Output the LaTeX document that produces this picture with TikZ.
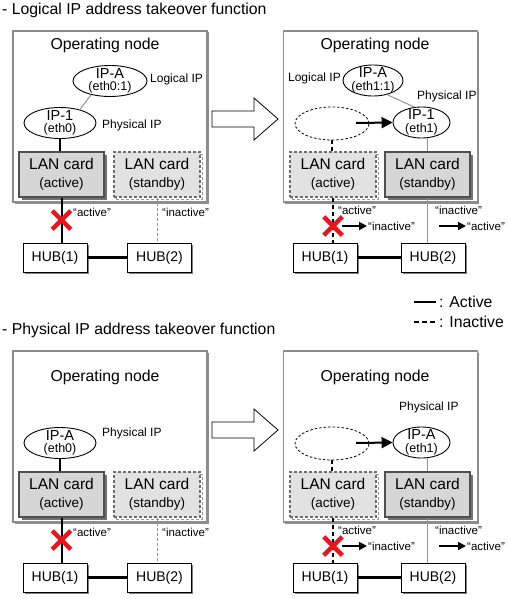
\documentclass[tikz,border=0pt]{standalone}
\usepackage{fontspec}
\setmainfont{Liberation Sans}
\usetikzlibrary{arrows.meta,positioning,shapes.geometric,shapes.misc,shadows}
\definecolor{cardfill}{HTML}{D6D6D6}
\definecolor{cardfade}{HTML}{E2E2E2}
\definecolor{cardedge}{HTML}{505050}
\definecolor{boxedge}{HTML}{8C8C8C}
\definecolor{failred}{HTML}{E8141E}
\newcommand\fntbig{\fontsize{15.8}{18}\selectfont}
\newcommand\fntcard{\fontsize{15.5}{18}\selectfont}
\newcommand\fntsub{\fontsize{13.5}{15}\selectfont}
\newcommand\fntip{\fontsize{14.5}{12.5}\selectfont}
\newcommand\fnteth{\fontsize{12.5}{12.5}\selectfont}
\newcommand\fnttag{\fontsize{12}{14}\selectfont}
\newcommand\fntquote{\fontsize{11.5}{13}\selectfont}
\newcommand\fnthub{\fontsize{14}{16}\selectfont}
\tikzset{
  title/.style={anchor=west,inner sep=0pt,font=\fntbig},
  opbox/.style={draw=boxedge,line width=1.3pt,fill=white,minimum width=194pt,minimum height=171pt,inner sep=0pt,
    drop shadow={shadow xshift=1.5pt,shadow yshift=-1.5pt,opacity=1,fill=black!45}},
  optxt/.style={inner sep=0pt,font=\fntbig},
  ipcirc/.style={ellipse,draw,line width=0.9pt,fill=white,minimum height=31pt,inner sep=0pt},
  iptxt/.style={align=center,font=\fntip,inner sep=0pt},
  ghost/.style={ellipse,draw,line width=0.8pt,dash pattern=on 2.5pt off 2pt,minimum width=74pt,minimum height=33pt,inner sep=0pt},
  tag/.style={inner sep=0pt,font=\fnttag},
  quote/.style={anchor=west,inner sep=1pt,font=\fntquote},
  lanon/.style={draw=cardedge,line width=1.2pt,fill=cardfill,minimum width=85pt,minimum height=45pt,inner sep=0pt,
    align=center,font=\fntcard,drop shadow={shadow xshift=2.5pt,shadow yshift=-2.5pt,opacity=1,fill=black!55}},
  lanoff/.style={draw=gray!85!black,line width=1.2pt,dash pattern=on 3pt off 2pt,fill=cardfade,minimum width=86pt,minimum height=45pt,
    inner sep=0pt,align=center,font=\fntcard,
    general shadow={shadow xshift=2pt,shadow yshift=-2pt,draw=gray!80,line width=1pt,dash pattern=on 3pt off 2pt}},
  hub/.style={draw,line width=0.9pt,fill=white,minimum width=64pt,minimum height=29pt,inner sep=0pt,font=\fnthub,
    drop shadow={shadow xshift=1.5pt,shadow yshift=-1.5pt,opacity=1,fill=black!50}},
  live/.style={line width=2pt},
  dead/.style={line width=2pt,dash pattern=on 4pt off 3pt},
  trunk/.style={line width=3pt},
  thinlink/.style={draw=gray!85,line width=1pt},
  thindash/.style={draw=gray!85,line width=1pt,dash pattern=on 3pt off 2pt},
  fail/.style={cross out,draw=failred,line width=4.5pt,minimum size=14pt,inner sep=0pt},
  moveto/.style={line width=2pt,-{Triangle[length=11pt,width=11pt]}},
  stepto/.style={line width=1.8pt,-{Triangle[length=8pt,width=8pt]}},
  bigarrow/.style={draw,line width=0.8pt,fill=white,line join=miter},
  keytxt/.style={anchor=west,inner sep=0pt,font=\fntbig},
}
\begin{document}
\begin{tikzpicture}[x=1pt,y=-1pt]
\useasboundingbox (0,0) rectangle (508,599);
\node[title] (t1) at (2,10) {- Logical IP address takeover function};
\node[title] (t2) at (2,330) {- Physical IP address takeover function};

% logical IP, before
\node[opbox] (a1box) at (110,116.5) {};
\node[optxt] (a1op) at (105,45) {Operating node};
\node[ipcirc,minimum width=74pt,label={[iptxt]center:{IP-A\\{\fnteth(eth0:1)}}}] (a1ipa) at (110,81) {};
\node[tag,anchor=west] (a1log) at (150,79) {Logical IP};
\node[ipcirc,minimum width=72pt,label={[iptxt]center:{IP-1\\{\fnteth(eth0)}}}] (a1ip1) at (60,123) {};
\node[tag,anchor=west] (a1phy) at (102,125) {Physical IP};
\draw[thinlink] (a1ipa.216) -- (a1ip1.34);
\node[lanon] (a1lan1) at (61.5,174.5) {LAN card\\{\fntsub(active)}};
\node[lanoff] (a1lan2) at (157,174.5) {LAN card\\{\fntsub(standby)}};
\draw[live] (a1ip1.south) -- (a1ip1.south |- a1lan1.north);
\node[hub] (a1hub1) at (55,257.5) {HUB(1)};
\node[hub] (a1hub2) at (159.5,257.5) {HUB(2)};
\draw[trunk] (a1hub1) -- (a1hub2);
\draw[live] (a1lan1.south) -- (a1lan1.south |- a1hub1.north);
\draw[thindash] (a1lan2.south) -- (a1lan2.south |- a1hub2.north);
\node[fail] (a1x) at (61.5,220) {};
\node[quote] (a1q1) at (72,212) {“active”};
\node[quote] (a1q2) at (161,212) {“inactive”};

\draw[bigarrow] (212,111) -- (254,111) -- (254,98) -- (278,119) -- (254,140) -- (254,127) -- (212,127) -- cycle;

% logical IP, after
\node[opbox] (a2box) at (380.5,116.5) {};
\node[optxt] (a2op) at (375,45) {Operating node};
\node[ipcirc,minimum width=60pt,label={[iptxt]center:{IP-A\\{\fnteth(eth1:1)}}}] (a2ipa) at (373,80.5) {};
\node[tag,anchor=east] (a2log) at (341,78) {Logical IP};
\node[ghost] (a2old) at (332,123.5) {};
\node[ipcirc,minimum width=57pt,label={[iptxt]center:{IP-1\\{\fnteth(eth1)}}}] (a2ip1) at (421.5,122.5) {};
\node[tag,anchor=west] (a2phy) at (417,96) {Physical IP};
\draw[thinlink] (a2ipa.-45) -- (a2ip1.115);
\coordinate (a2from) at (356,123);
\draw[moveto] (a2from) -- (a2ip1.west);
\node[lanoff] (a2lan1) at (333,174.5) {LAN card\\{\fntsub(active)}};
\node[lanon] (a2lan2) at (427.5,174.5) {LAN card\\{\fntsub(standby)}};
\draw[dead] (a2old.south) -- (a2old.south |- a2lan1.north);
\draw[thinlink] (a2lan2.north) -- (a2lan2.north |- a2ip1.south);
\node[hub] (a2hub1) at (325,257.5) {HUB(1)};
\node[hub] (a2hub2) at (433,257.5) {HUB(2)};
\draw[trunk] (a2hub1) -- (a2hub2);
\draw[dead] (a2lan1.south) -- (a2lan1.south |- a2hub1.north);
\draw[thinlink] (a2lan2.south) -- (a2lan2.south |- a2hub2.north);
\node[fail] (a2x) at (333,226) {};
\node[quote] (a2q1) at (337,210) {“active”};
\node[quote] (a2q2) at (367,226) {“inactive”};
\draw[stepto] (a2x.east) -- (a2q2.west);
\node[quote] (a2q3) at (434,210) {“inactive”};
\node[quote] (a2q4) at (466,226) {“active”};
\coordinate (a2from2) at (439,226);
\draw[stepto] (a2from2) -- (a2q4.west);

% key
\coordinate (k1a) at (414,302);
\node[keytxt] (k1) at (439,302) {: Active};
\draw[live,shorten >=3pt] (k1a) -- (k1.west);
\coordinate (k2a) at (414,322);
\node[keytxt] (k2) at (439,322) {: Inactive};
\draw[line width=2pt,dash pattern=on 5pt off 3pt,shorten >=3pt] (k2a) -- (k2.west);

% physical IP, before
\node[opbox] (b1box) at (110,436.5) {};
\node[optxt] (b1op) at (105,377) {Operating node};
\node[ipcirc,minimum width=72pt,label={[iptxt]center:{IP-A\\{\fnteth(eth0)}}}] (b1ipa) at (60,443) {};
\node[tag,anchor=west] (b1phy) at (102,433) {Physical IP};
\node[lanon] (b1lan1) at (61.5,494.5) {LAN card\\{\fntsub(active)}};
\node[lanoff] (b1lan2) at (157,494.5) {LAN card\\{\fntsub(standby)}};
\draw[live] (b1ipa.south) -- (b1ipa.south |- b1lan1.north);
\node[hub] (b1hub1) at (55,577.5) {HUB(1)};
\node[hub] (b1hub2) at (159.5,577.5) {HUB(2)};
\draw[trunk] (b1hub1) -- (b1hub2);
\draw[live] (b1lan1.south) -- (b1lan1.south |- b1hub1.north);
\draw[thindash] (b1lan2.south) -- (b1lan2.south |- b1hub2.north);
\node[fail] (b1x) at (61.5,540) {};
\node[quote] (b1q1) at (72,532) {“active”};
\node[quote] (b1q2) at (161,532) {“inactive”};

\draw[bigarrow] (212,422) -- (254,422) -- (254,409) -- (278,430) -- (254,451) -- (254,438) -- (212,438) -- cycle;

% physical IP, after
\node[opbox] (b2box) at (380.5,436.5) {};
\node[optxt] (b2op) at (375,377) {Operating node};
\node[tag,anchor=west] (b2phy) at (399,407) {Physical IP};
\node[ghost] (b2old) at (332,443.5) {};
\node[ipcirc,minimum width=57pt,label={[iptxt]center:{IP-A\\{\fnteth(eth1)}}}] (b2ipa) at (421.5,442.5) {};
\coordinate (b2from) at (356,443);
\draw[moveto] (b2from) -- (b2ipa.west);
\node[lanoff] (b2lan1) at (333,494.5) {LAN card\\{\fntsub(active)}};
\node[lanon] (b2lan2) at (427.5,494.5) {LAN card\\{\fntsub(standby)}};
\draw[dead] (b2old.south) -- (b2old.south |- b2lan1.north);
\draw[thinlink] (b2lan2.north) -- (b2lan2.north |- b2ipa.south);
\node[hub] (b2hub1) at (325,577.5) {HUB(1)};
\node[hub] (b2hub2) at (433,577.5) {HUB(2)};
\draw[trunk] (b2hub1) -- (b2hub2);
\draw[dead] (b2lan1.south) -- (b2lan1.south |- b2hub1.north);
\draw[thinlink] (b2lan2.south) -- (b2lan2.south |- b2hub2.north);
\node[fail] (b2x) at (333,546) {};
\node[quote] (b2q1) at (337,530) {“active”};
\node[quote] (b2q2) at (367,546) {“inactive”};
\draw[stepto] (b2x.east) -- (b2q2.west);
\node[quote] (b2q3) at (434,530) {“inactive”};
\node[quote] (b2q4) at (466,546) {“active”};
\coordinate (b2from2) at (439,546);
\draw[stepto] (b2from2) -- (b2q4.west);
\end{tikzpicture}
\end{document}
